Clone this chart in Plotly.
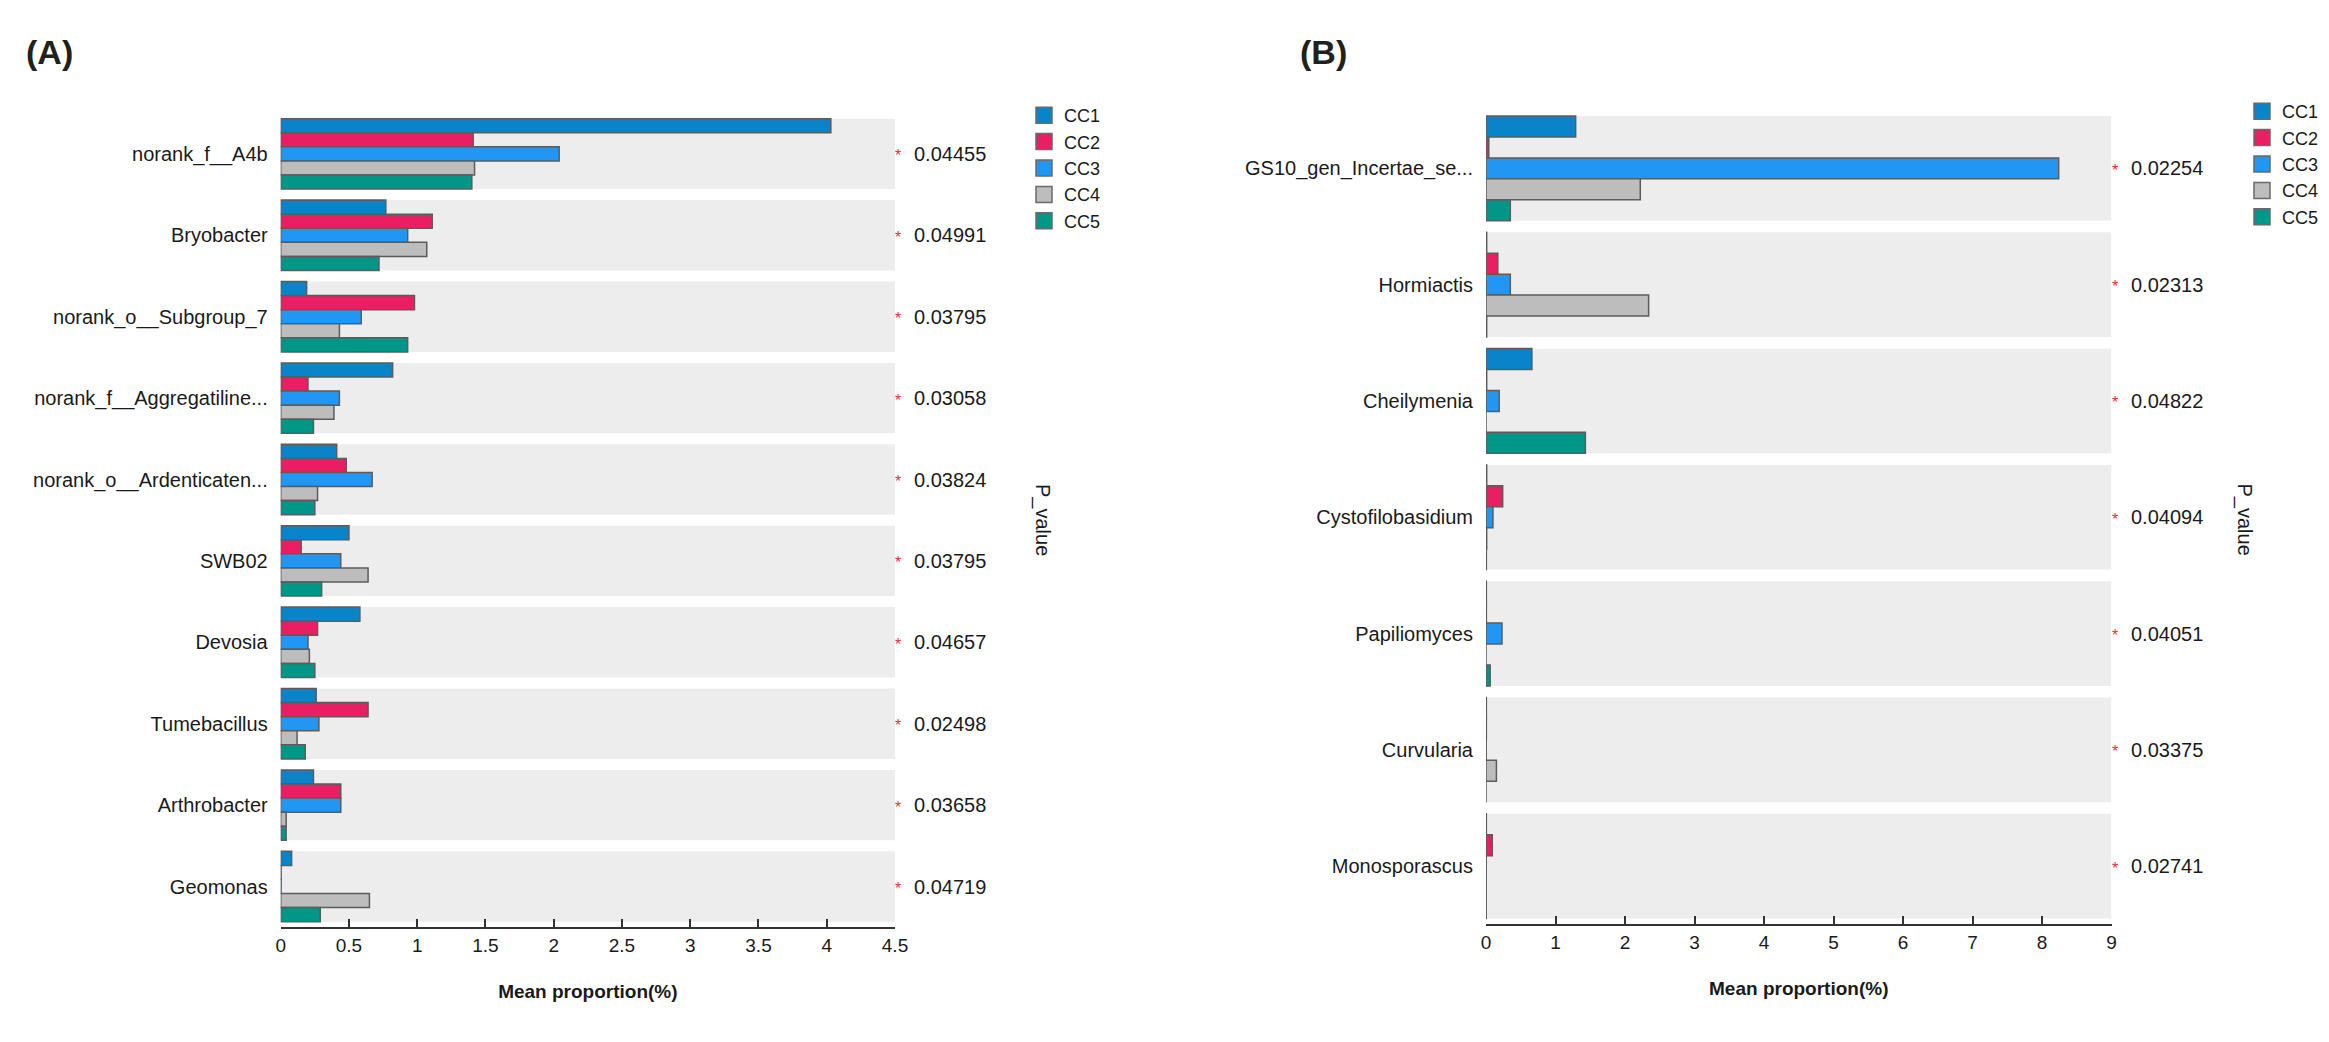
import plotly.graph_objects as go

W, H = 2329, 1042
PAGE_PAD = 8  # default body margin of the html page

groups = ["CC1", "CC2", "CC3", "CC4", "CC5"]
colors = ["#0a84c9", "#e91e63", "#2196f3", "#bdbdbd", "#009688"]

# panel A (bacteria)
taxa_a = [
    "norank_f__A4b", "Bryobacter", "norank_o__Subgroup_7",
    "norank_f__Aggregatiline...", "norank_o__Ardenticaten...", "SWB02",
    "Devosia", "Tumebacillus", "Arthrobacter", "Geomonas",
]
cc1_a = [4.03, 0.77, 0.19, 0.82, 0.41, 0.50, 0.58, 0.26, 0.24, 0.08]
cc2_a = [1.41, 1.11, 0.98, 0.20, 0.48, 0.15, 0.27, 0.64, 0.44, 0.003]
cc3_a = [2.04, 0.93, 0.59, 0.43, 0.67, 0.44, 0.20, 0.28, 0.44, 0.003]
cc4_a = [1.42, 1.07, 0.43, 0.39, 0.27, 0.64, 0.21, 0.12, 0.04, 0.65]
cc5_a = [1.40, 0.72, 0.93, 0.24, 0.25, 0.30, 0.25, 0.18, 0.04, 0.29]
pvals_a = ["0.04455", "0.04991", "0.03795", "0.03058", "0.03824",
           "0.03795", "0.04657", "0.02498", "0.03658", "0.04719"]
xticks_a = [0, 0.5, 1, 1.5, 2, 2.5, 3, 3.5, 4, 4.5]

# panel B (fungi)
taxa_b = [
    "GS10_gen_Incertae_se...", "Hormiactis", "Cheilymenia",
    "Cystofilobasidium", "Papiliomyces", "Curvularia", "Monosporascus",
]
cc1_b = [1.29, 0.01, 0.66, 0.01, 0.005, 0.005, 0.005]
cc2_b = [0.04, 0.17, 0.01, 0.24, 0.005, 0.005, 0.09]
cc3_b = [8.24, 0.35, 0.19, 0.10, 0.23, 0.003, 0.003]
cc4_b = [2.22, 2.34, 0.0, 0.01, 0.0, 0.15, 0.003]
cc5_b = [0.35, 0.01, 1.43, 0.005, 0.06, 0.0, 0.003]
pvals_b = ["0.02254", "0.02313", "0.04822", "0.04094",
           "0.04051", "0.03375", "0.02741"]
xticks_b = [0, 1, 2, 3, 4, 5, 6, 7, 8, 9]

FONT = "Liberation Sans, Arial, sans-serif"
TXT = "#1a1a1a"


def px_x(p):
    return (p - PAGE_PAD) / W


def px_y(p):
    return 1 - (p - PAGE_PAD) / H


fig = go.Figure()

panels = [
    dict(taxa=taxa_a, vals=[cc1_a, cc2_a, cc3_a, cc4_a, cc5_a], pvals=pvals_a,
         ticks=xticks_a, xa="x", ya="y", legend="legend", band=0.865),
    dict(taxa=taxa_b, vals=[cc1_b, cc2_b, cc3_b, cc4_b, cc5_b], pvals=pvals_b,
         ticks=xticks_b, xa="x2", ya="y2", legend="legend2", band=0.90),
]

shapes = []
annotations = []
for pnl in panels:
    bw = pnl["band"] / len(groups)
    for k, (g, c, v) in enumerate(zip(groups, colors, pnl["vals"])):
        fig.add_trace(go.Bar(
            x=v, y=pnl["taxa"], orientation="h", name=g,
            width=bw, offset=-pnl["band"] / 2 + k * bw,
            marker=dict(color=c, line=dict(color="#5c5c5c", width=1.5)),
            xaxis=pnl["xa"], yaxis=pnl["ya"], showlegend=False,
        ))
        # legend entry with a bigger square
        fig.add_trace(go.Scatter(
            x=[None], y=[None], mode="markers", name=g,
            marker=dict(symbol="square", size=16, color=c,
                        line=dict(color="#6a6a6a", width=1.5)),
            xaxis=pnl["xa"], yaxis=pnl["ya"], legend=pnl["legend"],
        ))
    xmax = pnl["ticks"][-1]
    for i, name in enumerate(pnl["taxa"]):
        shapes.append(dict(
            type="rect", xref=pnl["xa"], yref=pnl["ya"], layer="below",
            x0=0, x1=xmax, y0=i - pnl["band"] / 2, y1=i + pnl["band"] / 2,
            fillcolor="#ededed", line=dict(width=0),
        ))
        annotations.append(dict(
            xref=pnl["xa"] + " domain", yref=pnl["ya"], x=1, y=name,
            text="*", showarrow=False, xanchor="center", xshift=3, yshift=-2,
            font=dict(family=FONT, size=16, color="#e5323b"),
        ))
        annotations.append(dict(
            xref=pnl["xa"] + " domain", yref=pnl["ya"], x=1, y=name,
            text=pnl["pvals"][i], showarrow=False, xanchor="left", xshift=17,
            font=dict(family=FONT, size=20, color=TXT),
        ))

# panel letters and P_value side labels
annotations += [
    dict(xref="paper", yref="paper", x=px_x(24), y=px_y(52), text="<b>(A)</b>",
         showarrow=False, xanchor="left", yanchor="middle",
         font=dict(family=FONT, size=34, color="#231f1c")),
    dict(xref="paper", yref="paper", x=px_x(1298), y=px_y(52), text="<b>(B)</b>",
         showarrow=False, xanchor="left", yanchor="middle",
         font=dict(family=FONT, size=34, color="#231f1c")),
    dict(xref="paper", yref="paper", x=px_x(1043), y=px_y(520), text="P_value",
         showarrow=False, textangle=90, font=dict(family=FONT, size=20, color=TXT)),
    dict(xref="paper", yref="paper", x=px_x(2257), y=px_y(519), text="P_value",
         showarrow=False, textangle=90, font=dict(family=FONT, size=20, color=TXT)),
]


def xaxis_cfg(domain, ticks, anchor):
    return dict(
        domain=domain, anchor=anchor, range=[0, ticks[-1]], tickvals=ticks,
        ticks="inside", ticklen=8, tickwidth=2, tickcolor="#333",
        showline=True, linecolor="#333", linewidth=2, showgrid=False,
        zeroline=False, automargin=False,
        tickfont=dict(family=FONT, size=19, color=TXT),
        title=dict(text="<b>Mean proportion(%)</b>", standoff=30,
                   font=dict(family=FONT, size=19, color=TXT)),
    )


def yaxis_cfg(domain, n, anchor):
    return dict(
        domain=domain, anchor=anchor, type="category", range=[n - 0.5, -0.5],
        showgrid=False, zeroline=False, showline=False, ticks="",
        automargin=False, ticklabelstandoff=12,
        tickfont=dict(family=FONT, size=20, color=TXT),
    )


legend_common = dict(
    bgcolor="rgba(0,0,0,0)", font=dict(family=FONT, size=18, color=TXT),
    xanchor="left", yanchor="top", itemclick=False, tracegroupgap=0,
)

fig.update_layout(
    width=W, height=H,
    margin=dict(l=0, r=0, t=0, b=0),
    paper_bgcolor="white", plot_bgcolor="white",
    barmode="overlay",
    xaxis=xaxis_cfg([px_x(280.7), px_x(895)], xticks_a, "y"),
    yaxis=yaxis_cfg([px_y(927.2), px_y(113.2)], len(taxa_a), "x"),
    xaxis2=xaxis_cfg([px_x(1486), px_x(2111.5)], xticks_b, "y2"),
    yaxis2=yaxis_cfg([px_y(924.3), px_y(110.2)], len(taxa_b), "x2"),
    legend=dict(x=px_x(1024), y=px_y(97), **legend_common),
    legend2=dict(x=px_x(2242), y=px_y(93), **legend_common),
    shapes=shapes,
    annotations=annotations,
)

fig.write_html("out.html")
